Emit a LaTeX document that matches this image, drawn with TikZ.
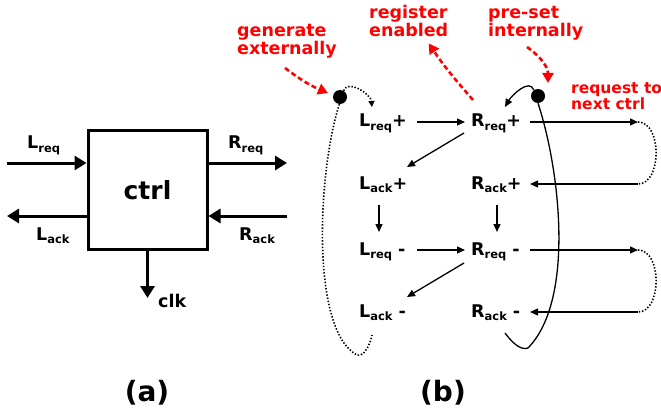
\documentclass[tikz,border=0pt]{standalone}
\usepackage{fontspec}
\setmainfont{DejaVu Sans}
\usetikzlibrary{arrows.meta,calc}
\newcommand\sbs[1]{\raisebox{-0.35ex}{\fontsize{11.5}{11.5}\selectfont #1}}
\begin{document}
\begin{tikzpicture}[x=1pt,y=-1pt,
  st/.style={font=\fontsize{17.5}{17.5}\selectfont\bfseries, inner sep=0pt, anchor=base west},
  redlbl/.style={font=\fontsize{17.5}{18}\selectfont\bfseries, text=red, inner sep=0pt, anchor=base west, align=left},
  big/.style={line width=3pt, -{Triangle[length=12pt,width=14pt]}},
  arr/.style={line width=1.3pt, -{Triangle[length=8pt,width=7pt]}},
  dots/.style={line width=1.6pt, dash pattern=on 1.4pt off 1.8pt},
  redarr/.style={red, line width=2.6pt, dash pattern=on 5pt off 3pt, -{Triangle[length=10pt,width=11pt]}},
  dot/.style={circle, fill=black, inner sep=0pt, minimum size=14pt},
  captxt/.style={font=\fontsize{28}{28}\selectfont\bfseries, inner sep=0pt, anchor=base}]
\useasboundingbox (0,0) rectangle (661,409);

% ---------- (a) ----------
\node[draw, line width=3pt, minimum width=119pt, minimum height=118pt, inner sep=0pt,
      font=\fontsize{25}{25}\selectfont\bfseries] (ctrl) at (147.5,190) {ctrl};
\coordinate (lin) at (7,163);
\coordinate (lout) at (7,216);
\coordinate (rout) at (287,163);
\coordinate (rin) at (287,216);
\coordinate (clk) at (147.5,298);
\draw[big] (lin) -- (lin -| ctrl.west);
\draw[big] (lout -| ctrl.west) -- (lout);
\draw[big] (rout -| ctrl.east) -- (rout);
\draw[big] (rin) -- (rin -| ctrl.east);
\draw[big] (ctrl.south) -- (clk);
\node[st] (tLreq) at (27,149) {L\sbs{req}};
\node[st] (tRreq) at (228,149) {R\sbs{req}};
\node[st] (tLack) at (36,240) {L\sbs{ack}};
\node[st] (tRack) at (239,240) {R\sbs{ack}};
\node[st] (tclk) at (158,307) {clk};
\node[captxt] (capa) at (147,401) {(a)};
\node[captxt] (capb) at (443,401) {(b)};

% ---------- (b) ----------
\node[st] (lpp) at (359,127) {L\sbs{req}+};
\node[st] (rpp) at (471,127) {R\sbs{req}+};
\node[st] (lap) at (359,189) {L\sbs{ack}+};
\node[st] (rap) at (471,189) {R\sbs{ack}+};
\node[st] (lrm) at (359,255) {L\sbs{req} -};
\node[st] (rrm) at (471,255) {R\sbs{req} -};
\node[st] (lam) at (359,317) {L\sbs{ack} -};
\node[st] (ram) at (471,317) {R\sbs{ack} -};

\node[dot] (d1) at (340,97) {};
\node[dot] (d2) at (538,96) {};

\coordinate (n1) at (638,122);
\coordinate (n2) at (638,184);
\coordinate (n3) at (638,250);
\coordinate (n4) at (638,312);

\draw[arr] ([shift={(58,-5)}]lpp.base west) -- ([shift={(-6,-5)}]rpp.base west);
\draw[arr] ([shift={(-7,6)}]rpp.base west) -- ([shift={(48,-22)}]lap.base west);
\draw[arr] ([shift={(20,16)}]lap.base west) -- ([shift={(20,-23)}]lrm.base west);
\draw[arr] ([shift={(26,16)}]rap.base west) -- ([shift={(26,-23)}]rrm.base west);
\draw[arr] ([shift={(58,-5)}]lrm.base west) -- ([shift={(-6,-5)}]rrm.base west);
\draw[arr] ([shift={(-7,8)}]rrm.base west) -- ([shift={(48,-20)}]lam.base west);

\draw[arr] ([shift={(59,-5)}]rpp.base west) -- (n1);
\draw[arr] (n2) -- ([shift={(59,-5)}]rap.base west);
\draw[arr] ([shift={(59,-5)}]rrm.base west) -- (n3);
\draw[arr] (n4) -- ([shift={(59,-5)}]ram.base west);
\draw[dots] (n1) to[out=0,in=0] (n2);
\draw[dots] (n3) to[out=0,in=0] (n4);

% dotted loop around left column
\coordinate (lend) at (372,335);
\draw[dots, -{Triangle[length=6pt,width=6pt]}] (d1.60) to[out=70,in=95] ([shift={(13,-20)}]lpp.base west);
\draw[dots] (d1.-95) .. controls (318,170) and (310,330) .. (357,355)
            .. controls (364,357) and (370,345) .. (lend);

% solid loop around right column
\coordinate (rend) at (505,333);
\draw[arr] (d2.125) to[out=110,in=60] ([shift={(34,-20)}]rpp.base west);
\draw[line width=1.3pt] (d2.south) .. controls (560,170) and (575,300) .. (528,348)
            .. controls (520,351) and (511,341) .. (rend);

% red labels (base = baseline of last line)
\node[redlbl] (gen) at (237,55) {generate\\externally};
\node[redlbl] (reg) at (369,37) {register\\enabled};
\node[redlbl] (pre) at (488,37) {pre-set\\internally};
\node[redlbl, font=\fontsize{15.5}{16}\selectfont\bfseries] (nxt) at (571,110) {request to\\next ctrl};

\coordinate (gstart) at (285,68);
\coordinate (pstart) at (527,47);
\draw[redarr] (gstart) to[out=-37,in=157] ([shift={(-12,-4)}]d1.center);
\draw[redarr] ([shift={(2,-27)}]rpp.base west) to[out=131,in=-56] ([shift={(20,6)}]reg.south);
\draw[redarr] (pstart) to[out=-35,in=90] ([shift={(10,-13)}]d2.center);
\end{tikzpicture}
\end{document}
